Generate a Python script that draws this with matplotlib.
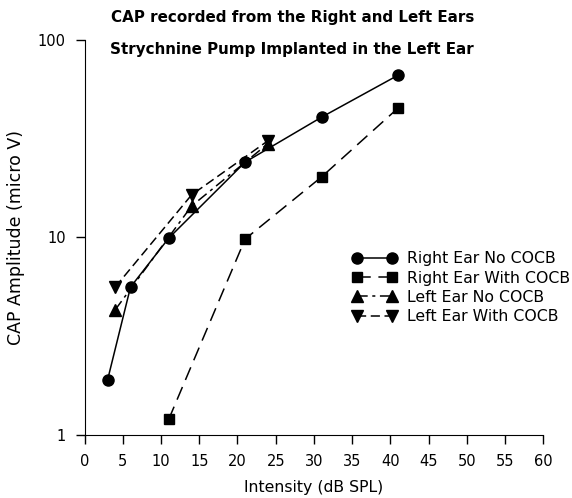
import numpy as np
import matplotlib
matplotlib.use("Agg")
import matplotlib.pyplot as plt

plt.rcParams['font.family'] = ['DejaVu Sans']

# donnees
x_right_no = [3, 6, 11, 21, 31, 41]
y_right_no = [1.9, 5.6, 9.9, 24, 40.5, 66]

x_right_with = [11, 21, 31, 41]
y_right_with = [1.2, 9.8, 20.2, 45]

x_left_no = [4, 14, 24]
y_left_no = [4.3, 14.4, 29.8]

x_left_with = [4, 14, 24]
y_left_with = [5.6, 16.4, 30.8]

xticks = np.arange(0, 61, 5)
yticks = [1, 10, 100]

fig = plt.figure(figsize=(5.72, 4.98), dpi=100)
ax = fig.add_axes([0.148, 0.1265, 0.8016, 0.794])

ax.plot(x_right_no, y_right_no, color='black', lw=1.1, marker='o', ms=8,
        label='Right Ear No COCB')
ax.plot(x_right_with, y_right_with, color='black', lw=1.1, marker='s', ms=7.5,
        dashes=(9, 5), label='Right Ear With COCB')
ax.plot(x_left_no, y_left_no, color='black', lw=1.1, marker='^', ms=8.5,
        dashes=(7, 3, 2, 3), label='Left Ear No COCB')
ax.plot(x_left_with, y_left_with, color='black', lw=1.1, marker='v', ms=8.5,
        dashes=(6, 3), label='Left Ear With COCB')

ax.set_yscale('log')
ax.set_xlim(0, 60)
ax.set_ylim(1, 100)
ax.set_xticks(xticks)
ax.set_yticks(yticks)
ax.set_yticklabels([str(t) for t in yticks])
ax.minorticks_off()
ax.tick_params(direction='out', length=6.5, width=1, labelsize=10.5, pad=7)

for s in ['top', 'right']:
    ax.spines[s].set_visible(False)

ax.set_xlabel('Intensity (dB SPL)', fontsize=11.3, labelpad=8)
ax.set_ylabel('CAP Amplitude (micro V)', fontsize=12.5, labelpad=9)

fig.text(0.194, 0.964, 'CAP recorded from the Right and Left Ears',
         fontsize=10.9, fontweight='bold', va='center')
fig.text(0.192, 0.90, 'Strychnine Pump Implanted in the Left Ear',
         fontsize=10.9, fontweight='bold', va='center')

ax.legend(loc='upper left', bbox_to_anchor=(0.57, 0.48), frameon=False,
          numpoints=2, handlelength=2.8, fontsize=11.3, labelspacing=0.27,
          handletextpad=0.7, borderaxespad=0)

plt.savefig('out.png', dpi=100)
